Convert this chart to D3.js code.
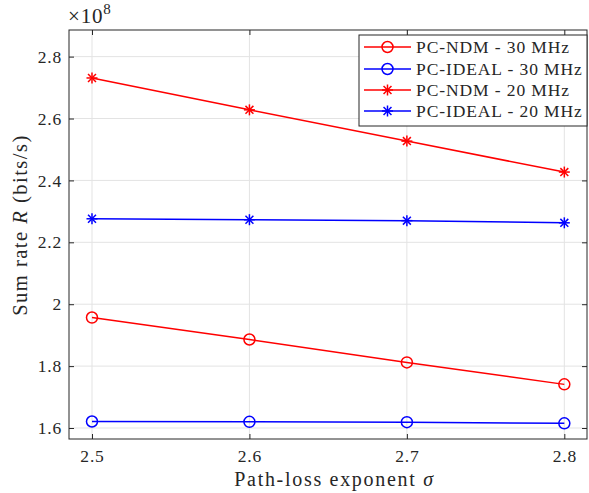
<!DOCTYPE html>
<html>
<head>
<script src="https://d3js.org/d3.v7.min.js"></script>
<style>
  body { margin: 0; background: #fff; }
  text { font-family: "Liberation Serif", "DejaVu Serif", serif; fill: #262626; }
</style>
</head>
<body>
<script>
  var w = 589, h = 493;
  var margin = {left: 69, right: 1, top: 30, bottom: 54};

  // data (values in units of 1e8 bits/s)
  var sigma = [2.5, 2.6, 2.7, 2.8];
  var ndm30 = [1.957, 1.886, 1.812, 1.741];
  var ideal30 = [1.621, 1.620, 1.619, 1.615];
  var ndm20 = [2.731, 2.628, 2.527, 2.427];
  var ideal20 = [2.276, 2.273, 2.270, 2.263];
  var xTicks = [2.5, 2.6, 2.7, 2.8];
  var yTicks = [1.6, 1.8, 2, 2.2, 2.4, 2.6, 2.8];

  var series = [
    {name: "PC-NDM - 30 MHz", values: ndm30, color: "#ff0000", marker: "o"},
    {name: "PC-IDEAL - 30 MHz", values: ideal30, color: "#0000ff", marker: "o"},
    {name: "PC-NDM - 20 MHz", values: ndm20, color: "#ff0000", marker: "*"},
    {name: "PC-IDEAL - 20 MHz", values: ideal20, color: "#0000ff", marker: "*"}
  ];

  var svg = d3.select("body").append("svg")
    .attr("width", w)
    .attr("height", h);

  var x = d3.scaleLinear().domain([2.4854, 2.8144]).range([margin.left, w - margin.right - 1]);
  var y = d3.scaleLinear().domain([1.5645, 2.886]).range([h - margin.bottom, margin.top]);

  var x0 = x.range()[0], x1 = x.range()[1], y0 = y.range()[0], y1 = y.range()[1];

  // grid
  svg.append("g").selectAll("line").data(xTicks).enter().append("line")
    .attr("x1", function(d){ return x(d); }).attr("x2", function(d){ return x(d); })
    .attr("y1", y0).attr("y2", y1)
    .attr("stroke", "#e3e3e3").attr("stroke-width", 1);
  svg.append("g").selectAll("line").data(yTicks).enter().append("line")
    .attr("y1", function(d){ return y(d); }).attr("y2", function(d){ return y(d); })
    .attr("x1", x0).attr("x2", x1)
    .attr("stroke", "#e3e3e3").attr("stroke-width", 1);

  // axes with inward ticks
  var tk = 5;
  var xAxis = d3.axisBottom(x).tickValues(xTicks).tickSize(-tk).tickPadding(11).tickFormat(d3.format(".1f"));
  var yAxis = d3.axisLeft(y).tickValues(yTicks).tickSize(-tk).tickPadding(7)
    .tickFormat(function(d){ return d === 2 ? "2" : d3.format(".1f")(d); });

  function styleAxis(g) {
    g.select(".domain").remove();
    g.selectAll("line").attr("stroke", "#262626");
    g.selectAll("text").attr("font-size", 17.5).attr("letter-spacing", 0.8).attr("fill", "#262626");
  }
  svg.append("g").attr("transform", "translate(0," + y0 + ")").call(xAxis).call(styleAxis);
  svg.append("g").attr("transform", "translate(" + x0 + ",0)").call(yAxis).call(styleAxis);
  svg.append("g").attr("transform", "translate(0," + y1 + ")")
    .call(d3.axisTop(x).tickValues(xTicks).tickSize(-tk).tickFormat(""))
    .call(styleAxis);
  svg.append("g").attr("transform", "translate(" + x1 + ",0)")
    .call(d3.axisRight(y).tickValues(yTicks).tickSize(-tk).tickFormat(""))
    .call(styleAxis);

  svg.append("rect")
    .attr("x", x0).attr("y", y1).attr("width", x1 - x0).attr("height", y0 - y1)
    .attr("fill", "none").attr("stroke", "#262626").attr("stroke-width", 1);

  // lines and markers
  var line = d3.line()
    .x(function(d, i){ return x(sigma[i]); })
    .y(function(d){ return y(d); });

  function drawMarker(g, type, cx, cy, color) {
    if (type === "o") {
      g.append("circle").attr("cx", cx).attr("cy", cy).attr("r", 5.5)
        .attr("fill", "none").attr("stroke", color).attr("stroke-width", 1.5);
    } else {
      var s = 5.5, d = s * 0.72;
      var segs = [[-s, 0, s, 0], [0, -s, 0, s], [-d, -d, d, d], [-d, d, d, -d]];
      segs.forEach(function(p){
        g.append("line").attr("x1", cx + p[0]).attr("y1", cy + p[1])
          .attr("x2", cx + p[2]).attr("y2", cy + p[3])
          .attr("stroke", color).attr("stroke-width", 1.5);
      });
    }
  }

  series.forEach(function(s){
    svg.append("path").datum(s.values)
      .attr("d", line).attr("fill", "none")
      .attr("stroke", s.color).attr("stroke-width", 1.5);
    var g = svg.append("g");
    s.values.forEach(function(v, i){
      drawMarker(g, s.marker, x(sigma[i]), y(v), s.color);
    });
  });

  // exponent label
  var ex = svg.append("text").attr("x", 68).attr("y", 23).attr("font-size", 21).attr("letter-spacing", 0.8);
  ex.append("tspan").text("\u00d710");
  ex.append("tspan").attr("dy", -9).attr("font-size", 15).text("8");

  // axis labels
  var xl = svg.append("text").attr("x", 334.5).attr("y", 486)
    .attr("text-anchor", "middle").attr("font-size", 20).attr("letter-spacing", 1.7);
  xl.append("tspan").text("Path-loss exponent ");
  xl.append("tspan").attr("font-style", "italic").text("\u03c3");

  var yl = svg.append("text")
    .attr("transform", "translate(27,225) rotate(-90)")
    .attr("text-anchor", "middle").attr("font-size", 20.5).attr("letter-spacing", 1.5);
  yl.append("tspan").text("Sum rate ");
  yl.append("tspan").attr("font-style", "italic").text("R");
  yl.append("tspan").text(" (bits/s)");

  // legend
  var lg = svg.append("g");
  lg.append("rect").attr("x", 359).attr("y", 35).attr("width", 228).attr("height", 91)
    .attr("fill", "#fff").attr("stroke", "#262626").attr("stroke-width", 1);
  var rowY = [47, 69, 90, 111];
  series.forEach(function(s, i){
    var ry = rowY[i];
    lg.append("line").attr("x1", 364).attr("x2", 411).attr("y1", ry).attr("y2", ry)
      .attr("stroke", s.color).attr("stroke-width", 1.5);
    drawMarker(lg, s.marker, 387.5, ry, s.color);
    lg.append("text").attr("x", 416).attr("y", ry + 6).attr("font-size", 17.5)
      .attr("letter-spacing", 0.9).text(s.name);
  });
</script>
</body>
</html>
